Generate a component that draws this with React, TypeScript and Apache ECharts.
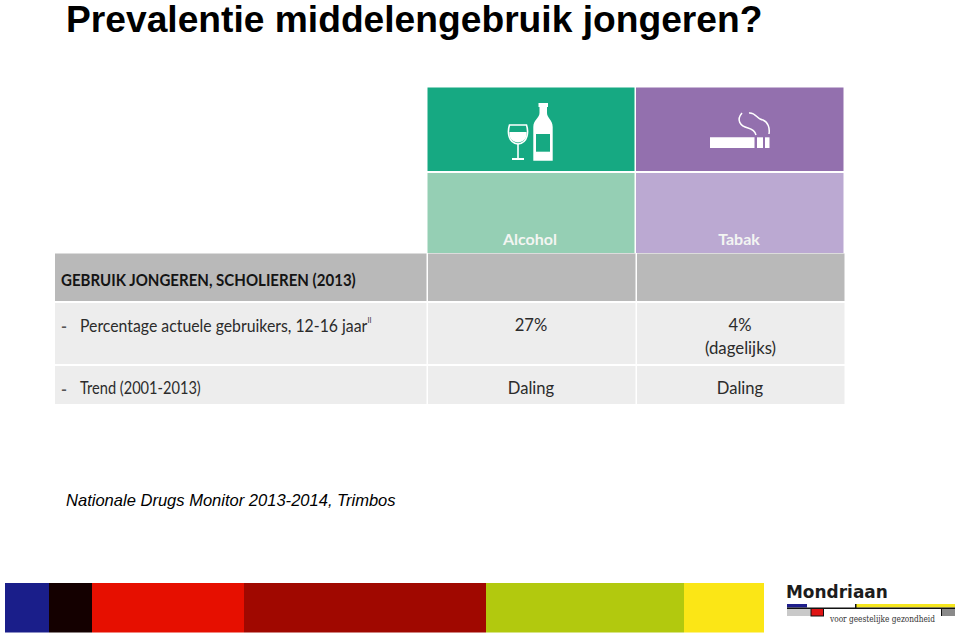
import React, { useEffect, useRef } from "react";
import * as echarts from "echarts";

const slideTitle = "Prevalentie middelengebruik jongeren?";
const sourceNote = "Nationale Drugs Monitor 2013-2014, Trimbos";
const substances = ["Alcohol", "Tabak"];
const tableHeading = "GEBRUIK JONGEREN, SCHOLIEREN (2013)";
const rowLabels = ["Percentage actuele gebruikers, 12-16 jaar", "Trend (2001-2013)"];
const prevalence = ["27%", "4%"];
const prevalenceNote = ["", "(dagelijks)"];
const trend = ["Daling", "Daling"];
const brandName = "Mondriaan";
const brandTagline = "voor geestelijke gezondheid";
const bandColors = ["#1A1E8A", "#140000", "#E60F00", "#A00800", "#B2C90E", "#FBE616"];

const bandEdges = [5, 49, 92, 244, 486, 684, 764];
const TABLE_FONT = "Lato, 'Noto Sans', sans-serif";
const DARK = "#2b2b2b";

echarts.graphic.registerShape(
  "bottleShape",
  echarts.graphic.extendPath(
    "M539.5 103 L547 103 L547 113 C547 118 552.7 120 552.7 127 L552.7 160.7 L533.3 160.7 L533.3 127 C533.3 120 539.5 118 539.5 113 Z",
    {}
  )
);
echarts.graphic.registerShape(
  "glassBowl",
  echarts.graphic.extendPath(
    "M509.5 125 L526.5 125 C528.5 131 528.5 143 518 144 C507.5 143 507.5 131 509.5 125 Z",
    {}
  )
);
echarts.graphic.registerShape(
  "glassWine",
  echarts.graphic.extendPath(
    "M509.5 132 L526.5 132 C527 137 525 142 518 142.5 C511 142 509 137 509.5 132 Z",
    {}
  )
);
echarts.graphic.registerShape(
  "smokeLeft",
  echarts.graphic.extendPath("M742 113 C736 120 740 126 748 128 C752 129 755 131 756 135", {})
);
echarts.graphic.registerShape(
  "smokeRight",
  echarts.graphic.extendPath("M749 113 C756 112 757 120 763 120 C768 122 770 128 769 134", {})
);

const box = (x0: number, y0: number, x1: number, y1: number, fill: string) => ({
  type: "rect",
  shape: { x: x0, y: y0, width: x1 - x0, height: y1 - y0 },
  style: { fill },
  silent: true,
});

const label = (
  text: string,
  x: number,
  y: number,
  font: string,
  fill: string,
  align: string = "left",
  scaleX: number = 1
) => ({
  type: "text",
  x,
  y,
  scaleX,
  silent: true,
  style: { text, font, fill, align, verticalAlign: "middle" },
});

function buildGraphics() {
  const columns = [
    { left: 428, right: 635.5, center: 531 },
    { left: 637, right: 844.5, center: 740 },
  ];
  const els: any[] = [];

  els.push(label(slideTitle, 66, 18.7, "bold 37.2px 'Liberation Sans', Arial, sans-serif", "#000"));

  // coloured header blocks
  els.push(box(427.5, 87.5, 634.5, 171, "#16A982"));
  els.push(box(636, 87.5, 843.5, 171, "#9370AE"));
  els.push(box(427.5, 173, 634.5, 253, "#95CFB4"));
  els.push(box(636, 173, 843.5, 253, "#BBA9D2"));

  // table bands
  els.push(box(55, 253.5, 426.5, 301, "#B9B9B9"));
  els.push(box(428, 253.5, 635.5, 301, "#B9B9B9"));
  els.push(box(637, 253.5, 844.5, 301, "#B9B9B9"));
  [
    [303, 364],
    [366, 404],
  ].forEach(([a, b]) => {
    els.push(box(55, a, 426.5, b, "#EDEDED"));
    els.push(box(428, a, 635.5, b, "#EDEDED"));
    els.push(box(637, a, 844.5, b, "#EDEDED"));
  });

  // wine + bottle icon
  els.push({ type: "bottleShape", silent: true, style: { fill: "#fff" } });
  els.push(box(536, 134, 550, 151.7, "#16A982"));
  els.push(box(538.5, 103, 548, 107, "#fff"));
  els.push({ type: "glassWine", silent: true, style: { fill: "#fff" } });
  els.push({ type: "glassBowl", silent: true, style: { fill: "none", stroke: "#fff", lineWidth: 1.6 } });
  els.push(box(517.2, 144, 518.8, 159, "#fff"));
  els.push(box(512, 158, 524, 160, "#fff"));

  // cigarette icon
  els.push(box(710, 137.3, 754.5, 148, "#fff"));
  els.push(box(757, 137.3, 763, 148, "#fff"));
  els.push(box(765, 137.3, 769.5, 148, "#fff"));
  els.push({ type: "smokeLeft", silent: true, style: { fill: "none", stroke: "#fff", lineWidth: 1.5 } });
  els.push({ type: "smokeRight", silent: true, style: { fill: "none", stroke: "#fff", lineWidth: 1.5 } });

  // column names
  substances.forEach((s, i) => {
    els.push(label(s, columns[i].center - 1, 238.5, "bold 16px " + TABLE_FONT, "#F3F5F2", "center"));
  });

  // table texts
  els.push(label(tableHeading, 61, 279, "bold 17.2px " + TABLE_FONT, "#141414", "left", 0.875));
  els.push(label("-", 61, 325, "bold 16px " + TABLE_FONT, "#555"));
  els.push(label(rowLabels[0], 80, 325, "16.6px " + TABLE_FONT, DARK, "left", 0.953));
  els.push(label("II", 367.5, 320, "7px " + TABLE_FONT, DARK));
  els.push(label("-", 61, 388, "bold 16px " + TABLE_FONT, "#555"));
  els.push(label(rowLabels[1], 80, 388, "16.6px " + TABLE_FONT, DARK, "left", 0.88));
  prevalence.forEach((v, i) => {
    els.push(label(v, columns[i].center, 325, "16.6px " + TABLE_FONT, DARK, "center"));
    if (prevalenceNote[i]) {
      els.push(label(prevalenceNote[i], columns[i].center + 0.5, 347, "16.8px " + TABLE_FONT, DARK, "center"));
    }
  });
  trend.forEach((v, i) => {
    els.push(label(v, columns[i].center, 388, "16.6px " + TABLE_FONT, DARK, "center"));
  });

  // source
  els.push(label(sourceNote, 66, 500, "italic 16.55px 'Liberation Sans', Arial, sans-serif", "#000"));

  // bottom colour band
  bandColors.forEach((c, i) => {
    els.push(box(bandEdges[i], 583, bandEdges[i + 1], 632.5, c));
  });

  // logo
  els.push(label(brandName, 786, 592, "bold 17.5px 'DejaVu Sans', sans-serif", "#1c1c1c", "left", 0.97));
  els.push(box(787, 604, 807, 607.5, "#1F1F8C"));
  els.push(box(856, 604, 955, 607.5, "#F5E61E"));
  els.push(box(855, 604, 856.5, 608, "#111"));
  els.push(box(787, 607.5, 955, 609, "#111"));
  els.push(box(787, 609, 811, 616, "#C9C9C9"));
  els.push(box(810.5, 609, 824, 616.5, "#111"));
  els.push(box(811.5, 609, 823, 615.5, "#E01515"));
  els.push(box(941, 609, 955, 616, "#8A8A8A"));
  els.push(box(941, 609, 942, 616, "#111"));
  els.push(label(brandTagline, 830, 619, "8.6px 'DejaVu Serif', serif", "#333", "left", 0.86));

  return els;
}

export default function App() {
  const ref = useRef<HTMLDivElement>(null);
  useEffect(() => {
    if (!ref.current) return;
    const chart = echarts.init(ref.current, undefined, { renderer: "svg" });
    chart.setOption({
      animation: false,
      backgroundColor: "#ffffff",
      graphic: { elements: buildGraphics() },
    });
    return () => chart.dispose();
  }, []);
  return (
    <div
      ref={ref}
      style={{ position: "absolute", left: 0, top: 0, width: 959, height: 636 }}
    />
  );
}
